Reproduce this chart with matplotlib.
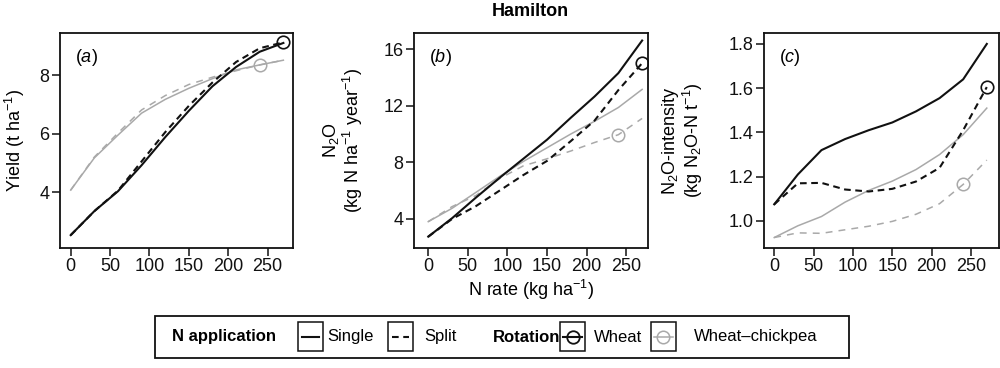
import numpy as np
import matplotlib
matplotlib.use('Agg')
import matplotlib.pyplot as plt
from matplotlib.patches import Rectangle
from matplotlib.lines import Line2D

# ---------------- data ----------------
n_rate = [0, 30, 60, 90, 120, 150, 180, 210, 240, 270]

yield_single_wheat = [2.53, 3.35, 4.03, 4.92, 5.88, 6.78, 7.62, 8.28, 8.80, 9.10]
yield_split_wheat = [2.53, 3.35, 4.05, 5.05, 6.05, 6.95, 7.75, 8.45, 8.92, 9.12]
yield_single_wc = [4.07, 5.17, 5.95, 6.70, 7.17, 7.55, 7.88, 8.18, 8.35, 8.51]
yield_split_wc = [4.07, 5.20, 6.02, 6.81, 7.30, 7.68, 7.93, 8.15, 8.35, 8.51]

n2o_single_wheat = [2.75, 4.05, 5.50, 6.90, 8.25, 9.60, 11.15, 12.65, 14.30, 16.60]
n2o_split_wheat = [2.75, 4.00, 4.90, 6.00, 7.10, 8.10, 9.50, 10.95, 13.10, 15.00]
n2o_single_wc = [3.81, 4.75, 5.87, 7.00, 8.06, 9.03, 10.00, 10.90, 11.87, 13.15]
n2o_split_wc = [3.81, 4.87, 5.65, 6.85, 7.75, 8.25, 8.80, 9.40, 9.95, 11.10]

int_single_wheat = [1.075, 1.21, 1.32, 1.37, 1.41, 1.445, 1.495, 1.555, 1.64, 1.80]
int_split_wheat = [1.075, 1.17, 1.172, 1.142, 1.133, 1.145, 1.178, 1.24, 1.41, 1.605]
int_single_wc = [0.925, 0.978, 1.02, 1.085, 1.138, 1.18, 1.232, 1.30, 1.39, 1.51]
int_split_wc = [0.925, 0.946, 0.944, 0.96, 0.976, 0.998, 1.03, 1.078, 1.165, 1.275]

opt_n_wheat = 270
opt_n_wc = 240

x_ticks = [0, 50, 100, 150, 200, 250]
yticks_a = [4, 6, 8]
yticks_b = [4, 8, 12, 16]
yticks_c = [1.0, 1.2, 1.4, 1.6, 1.8]

title = "Hamilton"
panel_labels = ["a", "b", "c"]
ylabels = ["Yield (t ha$^{-1}$)",
           "N$_2$O\n(kg N ha$^{-1}$ year$^{-1}$)",
           "N$_2$O-intensity\n(kg N$_2$O-N t$^{-1}$)"]
xlabel = "N rate (kg ha$^{-1}$)"
legend_n_title = "N application"
legend_n_items = ["Single", "Split"]
legend_r_title = "Rotation"
legend_r_items = ["Wheat", "Wheat\u2013chickpea"]

# ---------------- style ----------------
plt.rcParams['font.family'] = ['Liberation Sans', 'DejaVu Sans']
plt.rcParams['mathtext.fontset'] = 'custom'
plt.rcParams['mathtext.rm'] = 'Liberation Sans'
plt.rcParams['mathtext.it'] = 'Liberation Sans:italic'
plt.rcParams['mathtext.bf'] = 'Liberation Sans:bold'
plt.rcParams['mathtext.default'] = 'regular'

BLACK = '#111111'
GRAY = '#a9a9a9'
FS = 13
LFS = 12

fig = plt.figure(figsize=(10, 3.68), dpi=100)
W, H = 1000, 368

def fig_rect(left, right, top, bottom):
    return [left / W, 1 - bottom / H, (right - left) / W, (bottom - top) / H]

panels = [
    dict(rect=fig_rect(60, 293.3, 33.3, 247.7), xlim=(-13.6, 282.6), ylim=(2.10, 9.43),
         yticks=yticks_a, fmt="{:.0f}",
         series=(yield_single_wheat, yield_split_wheat, yield_single_wc, yield_split_wc),
         ylabel_x=-0.14),
    dict(rect=fig_rect(414, 648, 33.3, 247.7), xlim=(-18, 277.4), ylim=(1.97, 17.11),
         yticks=yticks_b, fmt="{:.0f}",
         series=(n2o_single_wheat, n2o_split_wheat, n2o_single_wc, n2o_split_wc),
         ylabel_x=-0.21),
    dict(rect=fig_rect(764, 999, 33.3, 247.7), xlim=(-13, 285.5), ylim=(0.879, 1.848),
         yticks=yticks_c, fmt="{:.1f}",
         series=(int_single_wheat, int_split_wheat, int_single_wc, int_split_wc),
         ylabel_x=-0.25),
]

for i, p in enumerate(panels):
    ax = fig.add_axes(p['rect'])
    s_w, sp_w, s_wc, sp_wc = p['series']
    ax.plot(n_rate, s_wc, color=GRAY, lw=1.1, solid_joinstyle='round')
    ax.plot(n_rate, sp_wc, color=GRAY, lw=1.1, ls=(0, (4.5, 4.0)))
    ax.plot(n_rate, s_w, color=BLACK, lw=1.5, solid_joinstyle='round')
    ax.plot(n_rate, sp_w, color=BLACK, lw=1.5, ls=(0, (3.2, 2.2)))
    # optimum markers on the split curves
    ax.plot([opt_n_wheat], [np.interp(opt_n_wheat, n_rate, sp_w)], 'o', ms=9,
            mfc='none', mec=BLACK, mew=1.2)
    ax.plot([opt_n_wc], [np.interp(opt_n_wc, n_rate, sp_wc)], 'o', ms=9,
            mfc='none', mec=GRAY, mew=1.1)
    ax.set_xlim(*p['xlim'])
    ax.set_ylim(*p['ylim'])
    ax.set_xticks(x_ticks)
    ax.set_xticklabels([str(t) for t in x_ticks])
    ax.set_yticks(p['yticks'])
    ax.set_yticklabels([p['fmt'].format(t) for t in p['yticks']])
    ax.tick_params(direction='out', length=5.5, width=1.1, labelsize=FS, pad=2,
                   colors=BLACK, top=False, right=False)
    for sp in ax.spines.values():
        sp.set_linewidth(1.3)
        sp.set_color(BLACK)
    ax.set_ylabel(ylabels[i], fontsize=FS, linespacing=1.0)
    ax.yaxis.set_label_coords(p['ylabel_x'], 0.5)
    ax.text(0.065, 0.885, "($\\mathit{%s}$)" % panel_labels[i], transform=ax.transAxes,
            fontsize=FS, ha='left', va='center')
    if i == 1:
        ax.set_xlabel(xlabel, fontsize=FS, labelpad=2)

fig.text(530 / W, 1 - 11 / H, title, fontsize=FS, fontweight='bold',
         ha='center', va='center')

# ---------------- legend ----------------
lax = fig.add_axes([0, 0, 1, 1])
lax.set_xlim(0, W)
lax.set_ylim(H, 0)
lax.axis('off')
lax.add_patch(Rectangle((155, 316), 849 - 155, 358 - 316, fill=False,
                        lw=1.3, ec=BLACK))
yc = 337
lax.text(172, yc, legend_n_title, fontsize=LFS, fontweight='bold', ha='left', va='center')
lax.text(493, yc, legend_r_title, fontsize=LFS, fontweight='bold', ha='left', va='center')

key_boxes = [297.6, 388, 560.2, 650.7]
key_w = 25
for kx in key_boxes:
    lax.add_patch(Rectangle((kx, 322), key_w, 29, fill=False, lw=1.1, ec=BLACK))

# Single
lax.add_line(Line2D([key_boxes[0] + 4, key_boxes[0] + 21], [yc, yc], color=BLACK, lw=1.5))
# Split
lax.add_line(Line2D([key_boxes[1] + 4, key_boxes[1] + 21], [yc, yc], color=BLACK, lw=1.5,
                    ls=(0, (3.2, 2.2))))
# Wheat
lax.add_line(Line2D([key_boxes[2] + 3, key_boxes[2] + 22], [yc, yc], color=BLACK, lw=1.5))
lax.plot([key_boxes[2] + key_w / 2], [yc], 'o', ms=9, mfc='none', mec=BLACK, mew=1.3)
# Wheat-chickpea
lax.add_line(Line2D([key_boxes[3] + 3, key_boxes[3] + 22], [yc, yc], color=GRAY, lw=1.1))
lax.plot([key_boxes[3] + key_w / 2], [yc], 'o', ms=9, mfc='none', mec=GRAY, mew=1.1)

label_x = [327, 424.4, 594.1, 693.7]
for lx, txt in zip(label_x, legend_n_items + legend_r_items):
    lax.text(lx, yc, txt, fontsize=LFS, ha='left', va='center')

fig.savefig('out.png', dpi=100)
